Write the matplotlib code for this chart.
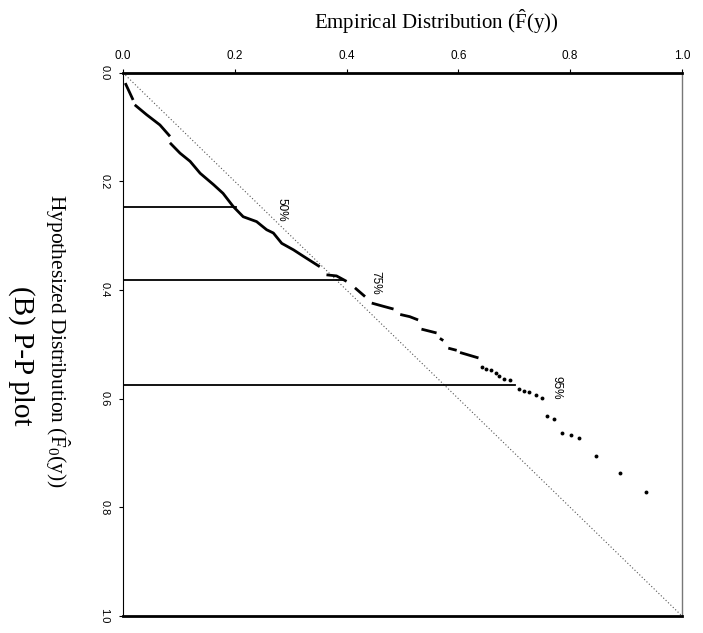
import numpy as np
import matplotlib
matplotlib.use('Agg')
import matplotlib.pyplot as plt

plt.rcParams['mathtext.fontset'] = 'custom'
plt.rcParams['mathtext.rm'] = 'Liberation Serif'
plt.rcParams['mathtext.it'] = 'Liberation Serif:italic'

# P-P curve, dense part: one list per unbroken run (empirical, hypothesized)
seg_emp = [[0.004, 0.018],
           [0.021, 0.042, 0.066, 0.084],
           [0.084, 0.102, 0.120, 0.138, 0.162, 0.179, 0.197, 0.215, 0.239, 0.257,
            0.269, 0.284, 0.305, 0.323, 0.352],
           [0.364, 0.382, 0.400],
           [0.415, 0.433],
           [0.445, 0.466, 0.484],
           [0.496, 0.513, 0.528],
           [0.534, 0.561],
           [0.567, 0.573],
           [0.582, 0.597],
           [0.603, 0.636]]
seg_hyp = [[0.019, 0.050],
           [0.059, 0.077, 0.096, 0.117],
           [0.129, 0.148, 0.163, 0.185, 0.206, 0.222, 0.246, 0.265, 0.274, 0.289,
            0.295, 0.314, 0.326, 0.338, 0.357],
           [0.372, 0.374, 0.384],
           [0.396, 0.412],
           [0.424, 0.430, 0.435],
           [0.445, 0.449, 0.455],
           [0.472, 0.479],
           [0.489, 0.493],
           [0.507, 0.511],
           [0.515, 0.525]]

# sparse upper tail, single points
dot_emp = [0.642, 0.649, 0.658, 0.667, 0.673, 0.682, 0.692, 0.709, 0.718, 0.727,
           0.739, 0.749, 0.759, 0.771, 0.786, 0.801, 0.816, 0.846, 0.890, 0.935]
dot_hyp = [0.542, 0.545, 0.548, 0.553, 0.558, 0.564, 0.566, 0.583, 0.586, 0.588,
           0.593, 0.599, 0.632, 0.637, 0.663, 0.666, 0.672, 0.705, 0.737, 0.772]

# percentile reference lines
ref_hyp = [0.248, 0.381, 0.575]
ref_emp_end = [0.203, 0.394, 0.701]
ref_lab = ['50%', '75%', '95%']
lab_emp = [0.283, 0.451, 0.776]
lab_hyp = [0.252, 0.387, 0.580]

ticks = [0.0, 0.2, 0.4, 0.6, 0.8, 1.0]
tick_lab = ['0.0', '0.2', '0.4', '0.6', '0.8', '1.0']

fig = plt.figure(figsize=(7.03, 6.33), dpi=100)
ax = fig.add_axes([0.175, 0.027, 0.795, 0.858])

ax.plot([0, 1], [0, 1], ls=(0, (1, 2)), color='#555555', lw=0.8)
for sx, sy in zip(seg_emp, seg_hyp):
    ax.plot(sx, sy, color='black', lw=2.0, solid_capstyle='butt')
ax.plot(dot_emp, dot_hyp, 'o', color='black', ms=2.8, mec='none')
for y, xe, t, lx, ly in zip(ref_hyp, ref_emp_end, ref_lab, lab_emp, lab_hyp):
    ax.plot([0, xe], [y, y], color='black', lw=1.3)
    ax.text(lx, ly, t, rotation=-90, ha='center', va='center', fontsize=8.5,
            family='Liberation Sans')

ax.set_xlim(0, 1)
ax.set_ylim(1, 0)
ax.xaxis.tick_top()
ax.set_xticks(ticks)
ax.set_xticklabels(tick_lab, fontsize=8.5, family='Liberation Sans')
ax.set_yticks(ticks)
ax.set_yticklabels(tick_lab, fontsize=8, family='Liberation Sans', rotation=-90,
                   va='center')
ax.tick_params(axis='x', length=3, width=0.8, pad=5)
ax.tick_params(axis='y', length=3, width=0.8, pad=7)

ax.spines['top'].set_linewidth(2.0)
ax.spines['bottom'].set_linewidth(2.0)
ax.spines['left'].set_linewidth(0.8)
ax.spines['right'].set_linewidth(1.0)
ax.spines['right'].set_color('#777777')
ax.spines['right'].set_linestyle((0, (2, 1)))

fig.text(0.62, 0.965, 'Empirical Distribution ($\\hat{\\mathrm{F}}$(y))',
         ha='center', va='center', fontsize=15, family='Liberation Serif')
fig.text(0.081, 0.461,
         'Hypothesized Distribution ($\\hat{\\mathrm{F}}_{\\mathrm{0}}$(y))',
         ha='center', va='center', rotation=-90, fontsize=15.5,
         family='Liberation Serif')
fig.text(0.031, 0.438, '(B) P-P plot', ha='center', va='center', rotation=-90,
         fontsize=21, family='Liberation Serif')

fig.savefig('out.png', dpi=100)
